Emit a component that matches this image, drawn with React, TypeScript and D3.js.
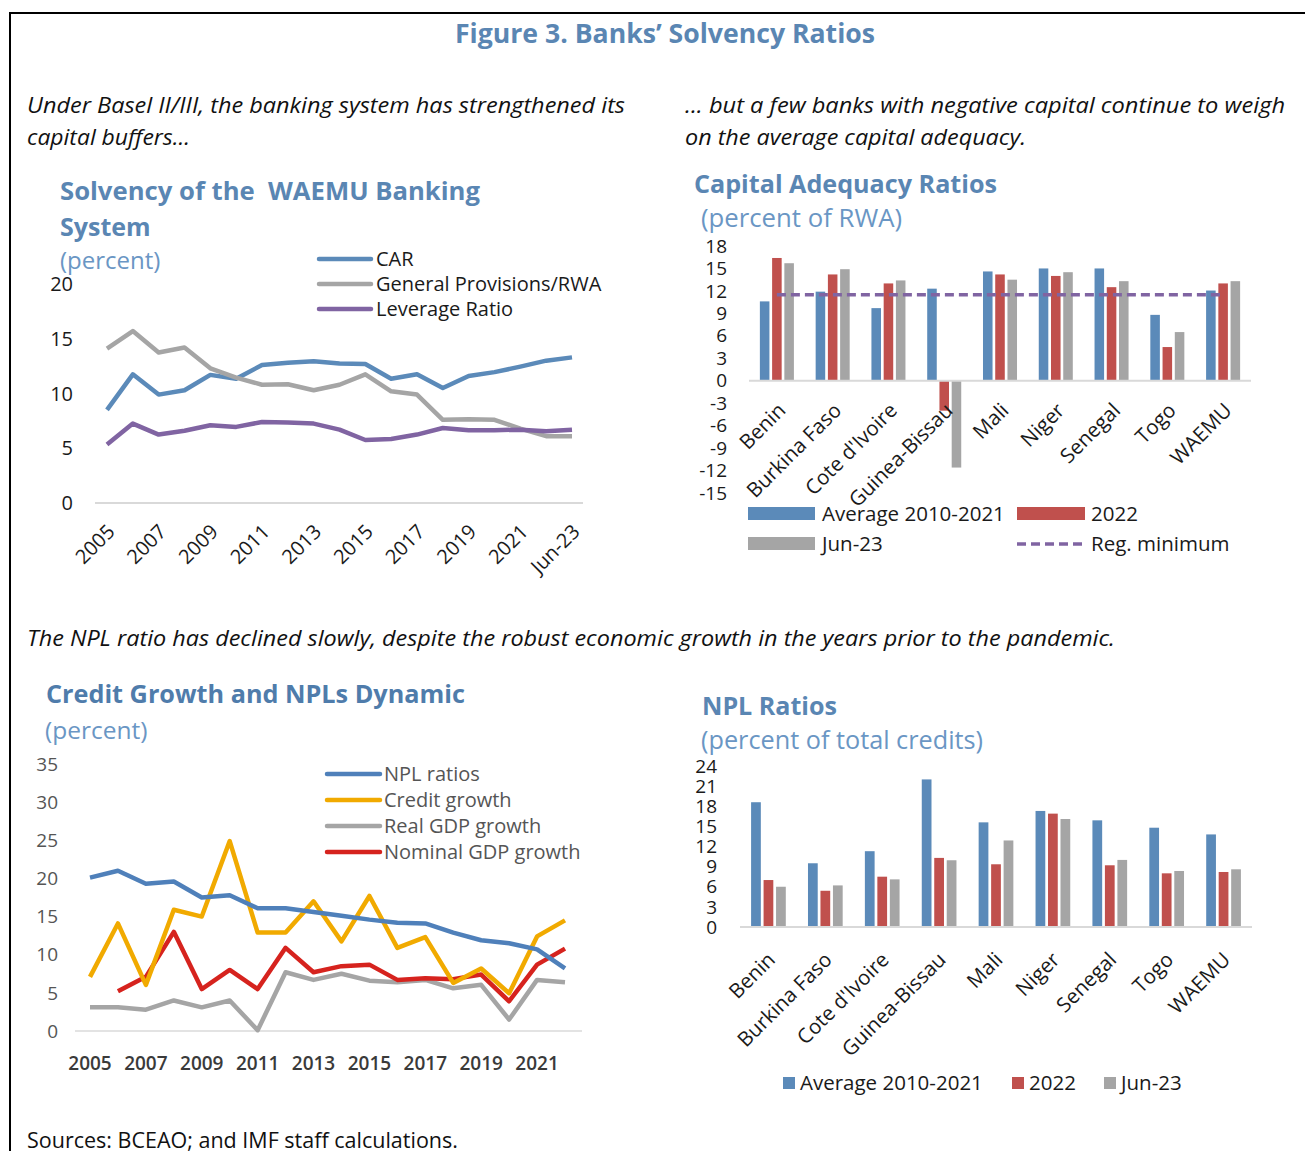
import React from "react";
import * as d3 from "d3";

// ---- data ----
const solvencyYears = ["2005", "2006", "2007", "2008", "2009", "2010", "2011", "2012", "2013", "2014", "2015", "2016", "2017", "2018", "2019", "2020", "2021", "2022", "Jun-23"];
const carSeries = [8.5, 11.75, 9.9, 10.3, 11.7, 11.35, 12.6, 12.8, 12.95, 12.75, 12.7, 11.35, 11.75, 10.5, 11.6, 11.95, 12.45, 13.0, 13.3];
const provisionsSeries = [14.1, 15.7, 13.75, 14.2, 12.3, 11.45, 10.8, 10.85, 10.3, 10.8, 11.75, 10.2, 9.9, 7.6, 7.65, 7.6, 6.8, 6.1, 6.1];
const leverageSeries = [5.35, 7.25, 6.25, 6.6, 7.1, 6.95, 7.4, 7.35, 7.25, 6.7, 5.75, 5.85, 6.25, 6.85, 6.65, 6.65, 6.7, 6.55, 6.7];

const countries = ["Benin", "Burkina Faso", "Cote d'Ivoire", "Guinea-Bissau", "Mali", "Niger", "Senegal", "Togo", "WAEMU"];
const carAvg = [10.6, 11.9, 9.7, 12.3, 14.6, 15.0, 15.0, 8.8, 12.05];
const car2022 = [16.4, 14.2, 13.0, -4.0, 14.2, 14.0, 12.5, 4.5, 13.0];
const carJun23 = [15.7, 14.9, 13.4, -11.6, 13.5, 14.5, 13.3, 6.5, 13.3];
const regMinimum = 11.5;

const creditYears = [2005, 2006, 2007, 2008, 2009, 2010, 2011, 2012, 2013, 2014, 2015, 2016, 2017, 2018, 2019, 2020, 2021, 2022];
const nplRatios = [20.1, 21.0, 19.3, 19.6, 17.5, 17.8, 16.1, 16.1, 15.6, 15.1, 14.6, 14.2, 14.1, 12.9, 11.9, 11.5, 10.7, 8.2];
const creditGrowth = [7.1, 14.1, 6.05, 15.9, 15.0, 24.9, 12.9, 12.9, 17.0, 11.75, 17.7, 10.9, 12.3, 6.3, 8.2, 4.95, 12.4, 14.5];
const realGdpGrowth = [3.1, 3.1, 2.8, 4.0, 3.1, 4.0, 0.1, 7.7, 6.7, 7.5, 6.6, 6.4, 6.7, 5.6, 6.05, 1.5, 6.7, 6.4];
const nominalGdpGrowth = [null, 5.2, 7.1, 13.0, 5.5, 8.0, 5.5, 10.9, 7.7, 8.5, 8.7, 6.7, 6.9, 6.8, 7.4, 3.9, 8.7, 10.8];

const nplAvg = [18.6, 9.5, 11.3, 22.0, 15.6, 17.3, 15.9, 14.8, 13.8];
const npl2022 = [7.0, 5.4, 7.5, 10.3, 9.35, 16.9, 9.2, 8.0, 8.2];
const nplJun23 = [6.0, 6.2, 7.1, 9.95, 12.9, 16.1, 10.0, 8.35, 8.6];

// ---- styles ----
const FONT = "'Open Sans', 'Noto Sans', sans-serif";
const TITLE_BLUE = "#5A86B3";
const SUB_BLUE = "#6A96C4";
const BLUE = "#5B8AB9";
const RED = "#C0504D";
const GRAY = "#A5A5A5";
const PURPLE = "#8064A2";
const AXIS = "#D9D9D9";

function SolvencyLines() {
  const x = d3.scalePoint<string>().domain(solvencyYears).range([107, 572]);
  const y = d3.scaleLinear().domain([0, 20]).range([503, 284]);
  const line = d3.line<number>().x((d, i) => x(solvencyYears[i])!).y((d) => y(d));
  const series = [
    { name: "CAR", values: carSeries, color: BLUE },
    { name: "General Provisions/RWA", values: provisionsSeries, color: GRAY },
    { name: "Leverage Ratio", values: leverageSeries, color: PURPLE },
  ];
  return (
    <g fontFamily={FONT}>
      <text x={60} y={200} fill={TITLE_BLUE} fontWeight="bold" fontSize={25} style={{ whiteSpace: "pre" }} textLength={420} lengthAdjust="spacingAndGlyphs">Solvency of the  WAEMU Banking</text>
      <text x={60} y={236} fill={TITLE_BLUE} fontWeight="bold" fontSize={25}>System</text>
      <text x={60} y={269} fill={SUB_BLUE} fontSize={24}>(percent)</text>
      <line x1={95} x2={583} y1={y(0)} y2={y(0)} stroke={AXIS} strokeWidth={2} />
      {y.ticks(4).map((t) => (
        <text key={t} x={73} y={y(t)} dy="0.35em" textAnchor="end" fontSize={20} fill="#1a1a1a">{t}</text>
      ))}
      {series.map((s) => (
        <path key={s.name} d={line(s.values)!} fill="none" stroke={s.color} strokeWidth={4.5} strokeLinejoin="round" />
      ))}
      {solvencyYears.map((yr, i) =>
        i % 2 === 0 ? (
          <text key={yr} transform={`translate(${x(yr)! + 9},${y(0) + 30}) rotate(-45)`} textAnchor="end" fontSize={20} fill="#1a1a1a">{yr}</text>
        ) : null
      )}
      {series.map((s, i) => (
        <g key={s.name}>
          <line x1={319} x2={371} y1={259 + i * 25} y2={259 + i * 25} stroke={s.color} strokeWidth={4.5} strokeLinecap="round" />
          <text x={376} y={259 + i * 25} dy="0.35em" fontSize={20} fill="#1a1a1a">{s.name}</text>
        </g>
      ))}
    </g>
  );
}

type BarSeries = { name: string; values: number[]; color: string };

function GroupedBars(props: {
  left: number; right: number; yTop: number; yBottom: number;
  yMin: number; yMax: number; step: number; tickX: number;
  series: BarSeries[]; labelDx: number; labelDy: number; refLine?: number;
}) {
  const { left, right, yTop, yBottom, yMin, yMax, step, tickX, series, labelDx, labelDy, refLine } = props;
  const x = d3.scaleBand<string>().domain(countries).range([left, right]);
  const half = x.bandwidth() * 0.305;
  const inner = d3.scaleBand<string>().domain(series.map((s) => s.name)).range([-half, half]).paddingInner(0.22);
  const y = d3.scaleLinear().domain([yMin, yMax]).range([yBottom, yTop]);
  const ticks = d3.range(yMin, yMax + 0.01, step);
  const center = (c: string) => x(c)! + x.bandwidth() / 2;
  return (
    <g fontFamily={FONT}>
      {ticks.map((t) => (
        <text key={t} x={tickX} y={y(t)} dy="0.35em" textAnchor="end" fontSize={19} fill="#1a1a1a">{t}</text>
      ))}
      {series.map((s) => (
        <g key={s.name} fill={s.color}>
          {s.values.map((v, i) => (
            <rect key={countries[i]} x={center(countries[i]) + inner(s.name)!} width={inner.bandwidth()}
              y={y(Math.max(0, v))} height={Math.abs(y(v) - y(0))} />
          ))}
        </g>
      ))}
      <line x1={left} x2={right} y1={y(0)} y2={y(0)} stroke={AXIS} strokeWidth={2} />
      {refLine !== undefined && (
        <line x1={center(countries[0])} x2={center(countries[countries.length - 1])} y1={y(refLine)} y2={y(refLine)}
          stroke={PURPLE} strokeWidth={3.5} strokeDasharray="9,5" />
      )}
      {countries.map((c) => (
        <text key={c} transform={`translate(${center(c) + labelDx},${y(0) + labelDy}) rotate(-45)`} textAnchor="end" fontSize={20.5} fill="#1a1a1a">{c}</text>
      ))}
    </g>
  );
}

function CapitalAdequacy() {
  const series = [
    { name: "Average 2010-2021", values: carAvg, color: BLUE },
    { name: "2022", values: car2022, color: RED },
    { name: "Jun-23", values: carJun23, color: GRAY },
  ];
  return (
    <g fontFamily={FONT}>
      <text x={694} y={193} fill={TITLE_BLUE} fontWeight="bold" fontSize={25} textLength={303} lengthAdjust="spacingAndGlyphs">Capital Adequacy Ratios</text>
      <text x={701} y={227} fill={SUB_BLUE} fontSize={25} textLength={201} lengthAdjust="spacingAndGlyphs">(percent of RWA)</text>
      <GroupedBars left={749} right={1251} yTop={246} yBottom={493} yMin={-15} yMax={18} step={3} tickX={727}
        series={series} labelDx={10} labelDy={31} refLine={regMinimum} />
      <rect x={748} y={507} width={67} height={13} fill={BLUE} />
      <text x={822} y={514} dy="0.35em" fontSize={20.5} fill="#1a1a1a">Average 2010-2021</text>
      <rect x={1017} y={507} width={68} height={13} fill={RED} />
      <text x={1091} y={514} dy="0.35em" fontSize={20.5} fill="#1a1a1a">2022</text>
      <rect x={748} y={537} width={67} height={13} fill={GRAY} />
      <text x={822} y={544} dy="0.35em" fontSize={20.5} fill="#1a1a1a">Jun-23</text>
      <line x1={1017} x2={1087} y1={544} y2={544} stroke={PURPLE} strokeWidth={3.5} strokeDasharray="9,5" />
      <text x={1091} y={544} dy="0.35em" fontSize={20.5} fill="#1a1a1a">Reg. minimum</text>
    </g>
  );
}

function CreditLines() {
  const x = d3.scalePoint<number>().domain(creditYears).range([90, 565]);
  const y = d3.scaleLinear().domain([0, 35]).range([1031, 764]);
  const line = d3.line<number | null>()
    .defined((d) => d !== null)
    .x((d, i) => x(creditYears[i])!)
    .y((d) => y(d as number));
  const series = [
    { name: "NPL ratios", values: nplRatios, color: "#4F80BA" },
    { name: "Credit growth", values: creditGrowth, color: "#F1AA00" },
    { name: "Real GDP growth", values: realGdpGrowth, color: GRAY },
    { name: "Nominal GDP growth", values: nominalGdpGrowth, color: "#D6231E" },
  ];
  const drawOrder = [2, 3, 1, 0];
  return (
    <g fontFamily={FONT}>
      <text x={46} y={703} fill="#4F7CAB" fontWeight="bold" fontSize={25} textLength={419} lengthAdjust="spacingAndGlyphs">Credit Growth and NPLs Dynamic</text>
      <text x={45} y={739} fill={SUB_BLUE} fontSize={24.5}>(percent)</text>
      <line x1={75} x2={582} y1={y(0)} y2={y(0)} stroke="#E3E3E3" strokeWidth={2} />
      {d3.range(0, 36, 5).map((t) => (
        <text key={t} x={58} y={y(t)} dy="0.35em" textAnchor="end" fontSize={19} fill="#555">{t}</text>
      ))}
      {drawOrder.map((k) => (
        <path key={series[k].name} d={line(series[k].values)!} fill="none" stroke={series[k].color} strokeWidth={4.5} strokeLinejoin="round" />
      ))}
      {creditYears.map((yr, i) =>
        i % 2 === 0 ? (
          <text key={yr} x={x(yr)!} y={1070} textAnchor="middle" fontSize={19} fontWeight={600} fill="#3a3a3a">{yr}</text>
        ) : null
      )}
      {series.map((s, i) => (
        <g key={s.name}>
          <line x1={327} x2={380} y1={774 + i * 26} y2={774 + i * 26} stroke={s.color} strokeWidth={4.5} strokeLinecap="round" />
          <text x={384} y={774 + i * 26} dy="0.35em" fontSize={20} fill="#555">{s.name}</text>
        </g>
      ))}
    </g>
  );
}

function NplRatios() {
  const series = [
    { name: "Average 2010-2021", values: nplAvg, color: BLUE },
    { name: "2022", values: npl2022, color: RED },
    { name: "Jun-23", values: nplJun23, color: GRAY },
  ];
  const legendX = [783, 1012, 1104];
  return (
    <g fontFamily={FONT}>
      <text x={702} y={715} fill={TITLE_BLUE} fontWeight="bold" fontSize={25} textLength={135} lengthAdjust="spacingAndGlyphs">NPL Ratios</text>
      <text x={701} y={749} fill={SUB_BLUE} fontSize={25} textLength={282} lengthAdjust="spacingAndGlyphs">(percent of total credits)</text>
      <GroupedBars left={740} right={1252} yTop={766} yBottom={927} yMin={0} yMax={24} step={3} tickX={717}
        series={series} labelDx={8} labelDy={34} />
      {series.map((s, i) => (
        <g key={s.name}>
          <rect x={legendX[i]} y={1077} width={12} height={12} fill={s.color} />
          <text x={legendX[i] + 17} y={1083} dy="0.35em" fontSize={20.5} fill="#1a1a1a">{s.name}</text>
        </g>
      ))}
    </g>
  );
}

export default function App() {
  return (
    <>
      <style>{"body{margin:0;background:#fff}"}</style>
      <svg width={1305} height={1151} style={{ display: "block" }}>
        <rect width={1305} height={1151} fill="#fff" />
        <path d="M10,1151V13H1305" fill="none" stroke="#000" strokeWidth={2} />
        <g fontFamily={FONT} fill="#111">
          <text x={665} y={43} textAnchor="middle" fill={TITLE_BLUE} fontWeight="bold" fontSize={26.5} textLength={420} lengthAdjust="spacingAndGlyphs">Figure 3. Banks’ Solvency Ratios</text>
          <text x={27} y={113} fontStyle="italic" fontSize={22.5} textLength={598} lengthAdjust="spacingAndGlyphs">Under Basel II/III, the banking system has strengthened its</text>
          <text x={27} y={145} fontStyle="italic" fontSize={22.5} textLength={163} lengthAdjust="spacingAndGlyphs">capital buffers...</text>
          <text x={685} y={113} fontStyle="italic" fontSize={22.5} textLength={600} lengthAdjust="spacingAndGlyphs">... but a few banks with negative capital continue to weigh</text>
          <text x={685} y={145} fontStyle="italic" fontSize={22.5} textLength={341} lengthAdjust="spacingAndGlyphs">on the average capital adequacy.</text>
          <text x={27} y={646} fontStyle="italic" fontSize={22.5} textLength={1088} lengthAdjust="spacingAndGlyphs">The NPL ratio has declined slowly, despite the robust economic growth in the years prior to the pandemic.</text>
          <text x={27} y={1148} fontSize={21.5}>Sources: BCEAO; and IMF staff calculations.</text>
        </g>
        <SolvencyLines />
        <CapitalAdequacy />
        <CreditLines />
        <NplRatios />
      </svg>
    </>
  );
}
